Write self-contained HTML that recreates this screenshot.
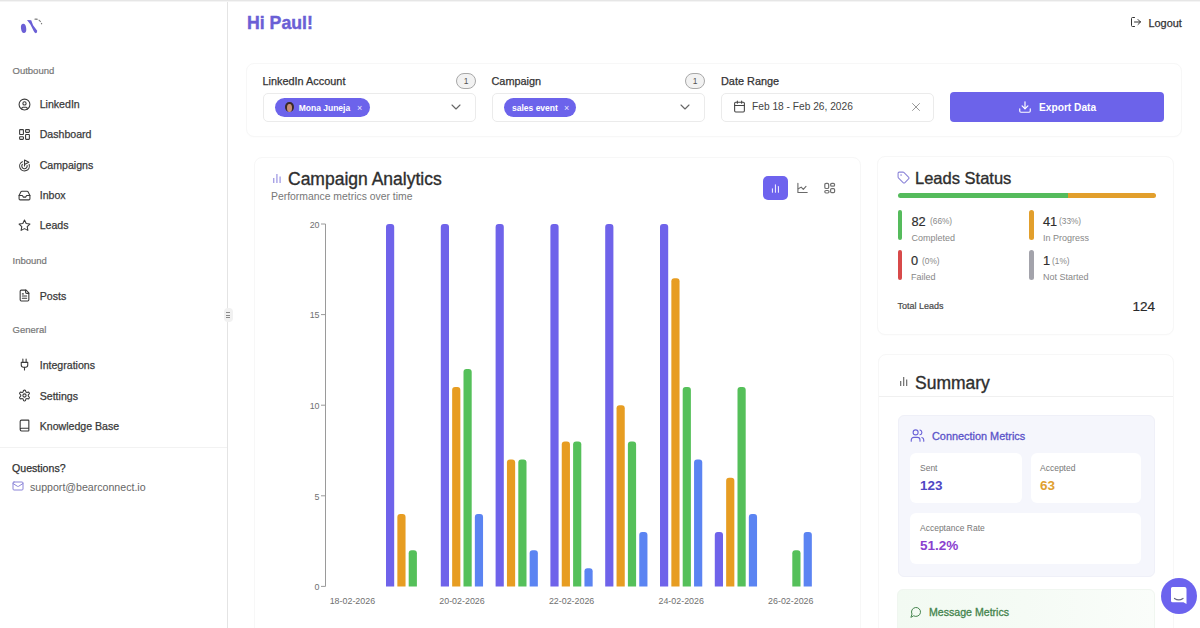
<!DOCTYPE html>
<html><head><meta charset="utf-8">
<style>
*{box-sizing:border-box;margin:0;padding:0}
html,body{width:1200px;height:628px;overflow:hidden;background:#fff;font-family:"Liberation Sans",sans-serif;color:#333}
.a{position:absolute}
.t{position:absolute;white-space:nowrap;line-height:1}
svg.i{position:absolute;fill:none;stroke-linecap:round;stroke-linejoin:round}
.sec{font-size:9.5px;color:#777;left:12.5px;-webkit-text-stroke:0.2px #777}
.nav{font-size:10.6px;color:#3a3a3a;left:39.7px;-webkit-text-stroke:0.25px #3a3a3a}
.card{position:absolute;background:#fff;border:1px solid #f7f7f7;border-radius:8px;box-shadow:0 1px 2px rgba(0,0,0,0.012)}
.lbl{font-size:10.9px;color:#333;-webkit-text-stroke:0.25px #333}
.sel{position:absolute;height:29px;border:1px solid #ebebeb;border-radius:5px;background:#fff}
.badge{position:absolute;width:20px;height:16px;border:1px solid #a8a8a8;border-radius:8px;background:#f2f2f2;font-size:8.5px;color:#555;text-align:center;line-height:14px}
.chip{position:absolute;height:19.5px;border-radius:10px;background:#6c63eb}
.chipt{font-size:8.5px;font-weight:700;color:#fff}
.bar{position:absolute;width:4.5px;height:30px;border-radius:3px}
.num{font-size:12.8px;color:#2e2e2e;-webkit-text-stroke:0.18px #2e2e2e}
.pct{font-size:8.3px;color:#888}
.sl{font-size:9px;color:#888}
.box{position:absolute;background:#fff;border-radius:6px}
.mlab{font-size:8.5px;color:#777}
.mval{font-size:13.5px;font-weight:700}
</style></head>
<body>
<div class="a" style="left:0;top:0;width:1200px;height:1px;background:#e6e6e6"></div><div class="a" style="left:0;top:1px;width:1200px;height:1px;background:#f4f4f4"></div>
<div class="a" style="left:227px;top:2px;width:1px;height:626px;background:#e4e4e4"></div>

<!-- sidebar -->
<svg class="a" style="left:16px;top:15px" width="30" height="22" viewBox="0 0 30 22">
  <ellipse cx="7.6" cy="13.4" rx="2.6" ry="4.6" fill="#6b5fd6" transform="rotate(-8 7.6 13.4)"/>
  <path d="M11 5 L15.2 5.3 L17.1 10.3 L21.2 15.8 Q21.4 18.2 19.7 18.2 Q18.2 17.6 17.4 15.6 L14.4 9.4 Z" fill="#6b5fd6"/>
  <path d="M18.5 4.3 Q23.5 3.2 25.8 9.2" stroke="#777" stroke-width="1.1" fill="none" stroke-dasharray="3 1.2"/>
</svg>
<div class="t sec" style="top:65.5px">Outbound</div>

<svg class="i" style="left:17.5px;top:98px" width="13" height="13" viewBox="0 0 24 24" stroke="#3a3a3a" stroke-width="2"><circle cx="12" cy="12" r="10"/><circle cx="12" cy="10" r="3"/><path d="M7 20.662V19a2 2 0 0 1 2-2h6a2 2 0 0 1 2 2v1.662"/></svg>
<div class="t nav" style="top:99px">LinkedIn</div>
<svg class="i" style="left:17.5px;top:128px" width="13" height="13" viewBox="0 0 24 24" stroke="#3a3a3a" stroke-width="2"><rect width="7" height="9" x="3" y="3" rx="1"/><rect width="7" height="5" x="14" y="3" rx="1"/><rect width="7" height="9" x="14" y="12" rx="1"/><rect width="7" height="5" x="3" y="16" rx="1"/></svg>
<div class="t nav" style="top:129px">Dashboard</div>
<svg class="i" style="left:17.5px;top:158.5px" width="13" height="13" viewBox="0 0 24 24" stroke="#3a3a3a" stroke-width="2"><path d="M12 13V2l8 4-8 4"/><path d="M20.561 10.222a9 9 0 1 1-12.55-5.29"/><path d="M8.002 9.997a5 5 0 1 0 8.9 2.02"/></svg>
<div class="t nav" style="top:160px">Campaigns</div>
<svg class="i" style="left:17.5px;top:189px" width="13" height="13" viewBox="0 0 24 24" stroke="#3a3a3a" stroke-width="2"><polyline points="22 12 16 12 14 15 10 15 8 12 2 12"/><path d="M5.45 5.11 2 12v6a2 2 0 0 0 2 2h16a2 2 0 0 0 2-2v-6l-3.45-6.89A2 2 0 0 0 16.76 4H7.24a2 2 0 0 0-1.79 1.11z"/></svg>
<div class="t nav" style="top:190px">Inbox</div>
<svg class="i" style="left:17.5px;top:219px" width="13" height="13" viewBox="0 0 24 24" stroke="#3a3a3a" stroke-width="2"><polygon points="12 2 15.09 8.26 22 9.27 17 14.14 18.18 21.02 12 17.77 5.82 21.02 7 14.14 2 9.27 8.91 8.26 12 2"/></svg>
<div class="t nav" style="top:220px">Leads</div>

<div class="t sec" style="top:255.5px">Inbound</div>
<svg class="i" style="left:17.5px;top:289px" width="13" height="13" viewBox="0 0 24 24" stroke="#3a3a3a" stroke-width="2"><path d="M15 2H6a2 2 0 0 0-2 2v16a2 2 0 0 0 2 2h12a2 2 0 0 0 2-2V7Z"/><path d="M14 2v4a2 2 0 0 0 2 2h4"/><path d="M10 9H8"/><path d="M16 13H8"/><path d="M16 17H8"/></svg>
<div class="t nav" style="top:290.5px">Posts</div>

<div class="t sec" style="top:324.5px">General</div>
<svg class="i" style="left:17.5px;top:358px" width="13" height="13" viewBox="0 0 24 24" stroke="#3a3a3a" stroke-width="2"><path d="M12 22v-5"/><path d="M9 8V2"/><path d="M15 8V2"/><path d="M18 8v5a4 4 0 0 1-4 4h-4a4 4 0 0 1-4-4V8Z"/></svg>
<div class="t nav" style="top:359.5px">Integrations</div>
<svg class="i" style="left:17.5px;top:389px" width="13" height="13" viewBox="0 0 24 24" stroke="#3a3a3a" stroke-width="2"><path d="M12.22 2h-.44a2 2 0 0 0-2 2v.18a2 2 0 0 1-1 1.73l-.43.25a2 2 0 0 1-2 0l-.15-.08a2 2 0 0 0-2.73.73l-.22.38a2 2 0 0 0 .73 2.73l.15.1a2 2 0 0 1 1 1.72v.51a2 2 0 0 1-1 1.74l-.15.09a2 2 0 0 0-.73 2.73l.22.38a2 2 0 0 0 2.73.73l.15-.08a2 2 0 0 1 2 0l.43.25a2 2 0 0 1 1 1.73V20a2 2 0 0 0 2 2h.44a2 2 0 0 0 2-2v-.18a2 2 0 0 1 1-1.73l.43-.25a2 2 0 0 1 2 0l.15.08a2 2 0 0 0 2.73-.73l.22-.39a2 2 0 0 0-.73-2.73l-.15-.08a2 2 0 0 1-1-1.74v-.5a2 2 0 0 1 1-1.74l.15-.09a2 2 0 0 0 .73-2.73l-.22-.38a2 2 0 0 0-2.73-.73l-.15.08a2 2 0 0 1-2 0l-.43-.25a2 2 0 0 1-1-1.73V4a2 2 0 0 0-2-2z"/><circle cx="12" cy="12" r="3"/></svg>
<div class="t nav" style="top:390.5px">Settings</div>
<svg class="i" style="left:17.5px;top:419px" width="13" height="13" viewBox="0 0 24 24" stroke="#3a3a3a" stroke-width="2"><path d="M4 19.5v-15A2.5 2.5 0 0 1 6.5 2H19a1 1 0 0 1 1 1v18a1 1 0 0 1-1 1H6.5a1 1 0 0 1 0-5H20"/></svg>
<div class="t nav" style="top:420.5px">Knowledge Base</div>

<div class="a" style="left:0;top:446.5px;width:227px;height:1.5px;background:#f2f2f2"></div>
<div class="t" style="left:12px;top:463px;font-size:10.6px;color:#333;-webkit-text-stroke:0.25px #333">Questions?</div>
<svg class="i" style="left:11.5px;top:480px" width="12" height="12" viewBox="0 0 24 24" stroke="#8b84d8" stroke-width="2"><rect width="20" height="16" x="2" y="4" rx="2"/><path d="m22 7-8.97 5.7a1.94 1.94 0 0 1-2.06 0L2 7"/></svg>
<div class="t" style="left:30px;top:481.7px;font-size:10.6px;color:#666">support@bearconnect.io</div>

<!-- collapse handle -->
<div class="a" style="left:223.5px;top:308px;width:9px;height:14px;border-radius:4px;background:#f1f1f1"></div>
<div class="a" style="left:226px;top:312.3px;width:3.6px;height:1px;background:#8a8a8a"></div>
<div class="a" style="left:226px;top:314.6px;width:3.6px;height:1px;background:#8a8a8a"></div>
<div class="a" style="left:226px;top:316.9px;width:3.6px;height:1px;background:#8a8a8a"></div>

<!-- header -->
<div class="t" style="left:247px;top:14.7px;font-size:17.7px;font-weight:700;color:#6a5fd5;-webkit-text-stroke:0.4px #6a5fd5">Hi Paul!</div>
<svg class="i" style="left:1129.5px;top:16px" width="12" height="12" viewBox="0 0 24 24" stroke="#333" stroke-width="2"><path d="M9 3H5a2 2 0 0 0-2 2v14a2 2 0 0 0 2 2h4" transform="translate(0,0)"/><polyline points="16 17 21 12 16 7"/><line x1="21" x2="9" y1="12" y2="12"/></svg>
<div class="t" style="left:1148.5px;top:17.7px;font-size:10.9px;color:#333;-webkit-text-stroke:0.25px #333">Logout</div>

<!-- filter card -->
<div class="card" style="left:246px;top:63px;width:936px;height:74px"></div>
<div class="t lbl" style="left:262.5px;top:76.2px">LinkedIn Account</div>
<div class="badge" style="left:456px;top:72.5px">1</div>
<div class="sel" style="left:262.5px;top:92.5px;width:213px"></div>
<div class="chip" style="left:275px;top:97.5px;width:94.5px"></div>
<div class="a" style="left:285px;top:102px;width:8.5px;height:10px;border-radius:50%;background:#3a2a26"></div>
<div class="a" style="left:287.3px;top:104px;width:4.4px;height:8px;border-radius:50%;background:#c89078"></div>
<div class="t chipt" style="left:298.7px;top:103.8px">Mona Juneja</div>
<div class="t" style="left:357px;top:104px;font-size:9px;color:#e8e6ff">×</div>
<svg class="i" style="left:450px;top:102px" width="12" height="10" viewBox="0 0 12 10" stroke="#666" stroke-width="1.1"><path d="M2 3 L6 7 L10 3"/></svg>

<div class="t lbl" style="left:491.5px;top:76.2px">Campaign</div>
<div class="badge" style="left:685px;top:72.5px">1</div>
<div class="sel" style="left:491.5px;top:92.5px;width:213px"></div>
<div class="chip" style="left:504px;top:97.5px;width:72px"></div>
<div class="t chipt" style="left:512px;top:103.8px">sales event</div>
<div class="t" style="left:564px;top:104px;font-size:9px;color:#e8e6ff">×</div>
<svg class="i" style="left:679px;top:102px" width="12" height="10" viewBox="0 0 12 10" stroke="#666" stroke-width="1.1"><path d="M2 3 L6 7 L10 3"/></svg>

<div class="t lbl" style="left:721px;top:76.2px">Date Range</div>
<div class="sel" style="left:721px;top:92.5px;width:213px"></div>
<svg class="i" style="left:733px;top:100px" width="13" height="13" viewBox="0 0 24 24" stroke="#444" stroke-width="2"><path d="M8 2v4"/><path d="M16 2v4"/><rect width="18" height="18" x="3" y="4" rx="2"/><path d="M3 10h18"/></svg>
<div class="t" style="left:752px;top:102px;font-size:10.2px;color:#444">Feb 18 - Feb 26, 2026</div>
<svg class="i" style="left:911px;top:102px" width="10" height="10" viewBox="0 0 10 10" stroke="#999" stroke-width="1"><path d="M1.5 1.5 L8.5 8.5 M8.5 1.5 L1.5 8.5"/></svg>

<div class="a" style="left:950px;top:92.3px;width:214px;height:29.5px;background:#6c63ea;border-radius:4px"></div>
<svg class="i" style="left:1018px;top:100px" width="14" height="14" viewBox="0 0 24 24" stroke="#fff" stroke-width="2"><path d="M21 15v4a2 2 0 0 1-2 2H5a2 2 0 0 1-2-2v-4"/><polyline points="7 10 12 15 17 10"/><line x1="12" x2="12" y1="15" y2="3"/></svg>
<div class="t" style="left:1039px;top:103.3px;font-size:10.2px;font-weight:700;color:#fff">Export Data</div>

<!-- chart card -->
<div class="card" style="left:254px;top:157px;width:607px;height:490px"></div>
<svg class="a" style="left:272px;top:173px" width="10" height="10" viewBox="0 0 10 10"><rect x="1" y="5" width="1.4" height="5" fill="#a9a3e6"/><rect x="4.2" y="1" width="1.4" height="9" fill="#a9a3e6"/><rect x="7.4" y="3.5" width="1.4" height="6.5" fill="#a9a3e6"/></svg>
<div class="t" style="left:288px;top:171px;font-size:17.5px;color:#2e2e2e;-webkit-text-stroke:0.35px #2e2e2e">Campaign Analytics</div>
<div class="t" style="left:271px;top:191.5px;font-size:10.4px;color:#777">Performance metrics over time</div>
<div class="a" style="left:763px;top:176px;width:24.5px;height:23.5px;background:#6e63ee;border-radius:5px"></div>
<svg class="a" style="left:770px;top:182px" width="11" height="12" viewBox="0 0 11 12"><rect x="1.9" y="6.2" width="1.1" height="4.6" rx="0.5" fill="rgba(255,255,255,0.85)"/><rect x="4.9" y="2.2" width="1.1" height="8.6" rx="0.5" fill="rgba(255,255,255,0.85)"/><rect x="7.9" y="4" width="1.1" height="6.8" rx="0.5" fill="rgba(255,255,255,0.85)"/></svg>
<svg class="i" style="left:796px;top:182px" width="12" height="12" viewBox="0 0 24 24" stroke="#6a6a6a" stroke-width="2.2"><path d="M3.8 2.4V21h18.6"/><path d="M4.6 13.6 L10.4 10.2 L14.6 14.6 L20 8.8"/></svg>
<svg class="i" style="left:823px;top:182px" width="13" height="12" viewBox="0 0 13 12" stroke="#707070" stroke-width="1.2"><rect x="1.8" y="1.4" width="3.9" height="5.1" rx="1.3"/><rect x="1.8" y="8.5" width="4.2" height="2.5" rx="1.2"/><rect x="7.6" y="1.4" width="4" height="2.8" rx="1.3"/><rect x="7.6" y="6.6" width="4" height="4.1" rx="1.1"/></svg>
<svg class="a" style="left:0;top:0" width="1200" height="628" viewBox="0 0 1200 628" font-family="Liberation Sans, sans-serif">
<path d="M386.00 586.4 V227.00 Q386.00 224.00 389.00 224.00 H391.20 Q394.20 224.00 394.20 227.00 V586.4 Z" fill="#6f63ea"/>
<path d="M397.35 586.4 V516.92 Q397.35 513.92 400.35 513.92 H402.55 Q405.55 513.92 405.55 516.92 V586.4 Z" fill="#e79d22"/>
<path d="M408.70 586.4 V553.16 Q408.70 550.16 411.70 550.16 H413.90 Q416.90 550.16 416.90 553.16 V586.4 Z" fill="#55c05a"/>
<path d="M440.80 586.4 V227.00 Q440.80 224.00 443.80 224.00 H446.00 Q449.00 224.00 449.00 227.00 V586.4 Z" fill="#6f63ea"/>
<path d="M452.15 586.4 V390.08 Q452.15 387.08 455.15 387.08 H457.35 Q460.35 387.08 460.35 390.08 V586.4 Z" fill="#e79d22"/>
<path d="M463.50 586.4 V371.96 Q463.50 368.96 466.50 368.96 H468.70 Q471.70 368.96 471.70 371.96 V586.4 Z" fill="#55c05a"/>
<path d="M474.85 586.4 V516.92 Q474.85 513.92 477.85 513.92 H480.05 Q483.05 513.92 483.05 516.92 V586.4 Z" fill="#5b84f2"/>
<path d="M495.60 586.4 V227.00 Q495.60 224.00 498.60 224.00 H500.80 Q503.80 224.00 503.80 227.00 V586.4 Z" fill="#6f63ea"/>
<path d="M506.95 586.4 V462.56 Q506.95 459.56 509.95 459.56 H512.15 Q515.15 459.56 515.15 462.56 V586.4 Z" fill="#e79d22"/>
<path d="M518.30 586.4 V462.56 Q518.30 459.56 521.30 459.56 H523.50 Q526.50 459.56 526.50 462.56 V586.4 Z" fill="#55c05a"/>
<path d="M529.65 586.4 V553.16 Q529.65 550.16 532.65 550.16 H534.85 Q537.85 550.16 537.85 553.16 V586.4 Z" fill="#5b84f2"/>
<path d="M550.40 586.4 V227.00 Q550.40 224.00 553.40 224.00 H555.60 Q558.60 224.00 558.60 227.00 V586.4 Z" fill="#6f63ea"/>
<path d="M561.75 586.4 V444.44 Q561.75 441.44 564.75 441.44 H566.95 Q569.95 441.44 569.95 444.44 V586.4 Z" fill="#e79d22"/>
<path d="M573.10 586.4 V444.44 Q573.10 441.44 576.10 441.44 H578.30 Q581.30 441.44 581.30 444.44 V586.4 Z" fill="#55c05a"/>
<path d="M584.45 586.4 V571.28 Q584.45 568.28 587.45 568.28 H589.65 Q592.65 568.28 592.65 571.28 V586.4 Z" fill="#5b84f2"/>
<path d="M605.20 586.4 V227.00 Q605.20 224.00 608.20 224.00 H610.40 Q613.40 224.00 613.40 227.00 V586.4 Z" fill="#6f63ea"/>
<path d="M616.55 586.4 V408.20 Q616.55 405.20 619.55 405.20 H621.75 Q624.75 405.20 624.75 408.20 V586.4 Z" fill="#e79d22"/>
<path d="M627.90 586.4 V444.44 Q627.90 441.44 630.90 441.44 H633.10 Q636.10 441.44 636.10 444.44 V586.4 Z" fill="#55c05a"/>
<path d="M639.25 586.4 V535.04 Q639.25 532.04 642.25 532.04 H644.45 Q647.45 532.04 647.45 535.04 V586.4 Z" fill="#5b84f2"/>
<path d="M660.00 586.4 V227.00 Q660.00 224.00 663.00 224.00 H665.20 Q668.20 224.00 668.20 227.00 V586.4 Z" fill="#6f63ea"/>
<path d="M671.35 586.4 V281.36 Q671.35 278.36 674.35 278.36 H676.55 Q679.55 278.36 679.55 281.36 V586.4 Z" fill="#e79d22"/>
<path d="M682.70 586.4 V390.08 Q682.70 387.08 685.70 387.08 H687.90 Q690.90 387.08 690.90 390.08 V586.4 Z" fill="#55c05a"/>
<path d="M694.05 586.4 V462.56 Q694.05 459.56 697.05 459.56 H699.25 Q702.25 459.56 702.25 462.56 V586.4 Z" fill="#5b84f2"/>
<path d="M714.80 586.4 V535.04 Q714.80 532.04 717.80 532.04 H720.00 Q723.00 532.04 723.00 535.04 V586.4 Z" fill="#6f63ea"/>
<path d="M726.15 586.4 V480.68 Q726.15 477.68 729.15 477.68 H731.35 Q734.35 477.68 734.35 480.68 V586.4 Z" fill="#e79d22"/>
<path d="M737.50 586.4 V390.08 Q737.50 387.08 740.50 387.08 H742.70 Q745.70 387.08 745.70 390.08 V586.4 Z" fill="#55c05a"/>
<path d="M748.85 586.4 V516.92 Q748.85 513.92 751.85 513.92 H754.05 Q757.05 513.92 757.05 516.92 V586.4 Z" fill="#5b84f2"/>
<path d="M792.30 586.4 V553.16 Q792.30 550.16 795.30 550.16 H797.50 Q800.50 550.16 800.50 553.16 V586.4 Z" fill="#55c05a"/>
<path d="M803.65 586.4 V535.04 Q803.65 532.04 806.65 532.04 H808.85 Q811.85 532.04 811.85 535.04 V586.4 Z" fill="#5b84f2"/>
<path d="M325.5 224 V586.4" stroke="#9a9a9a" stroke-width="1" fill="none"/>
<path d="M321 586.40 H325.5" stroke="#9a9a9a" stroke-width="1"/>
<text x="319.5" y="590.10" text-anchor="end" font-size="8.9" fill="#707070">0</text>
<path d="M321 495.80 H325.5" stroke="#9a9a9a" stroke-width="1"/>
<text x="319.5" y="499.50" text-anchor="end" font-size="8.9" fill="#707070">5</text>
<path d="M321 405.20 H325.5" stroke="#9a9a9a" stroke-width="1"/>
<text x="319.5" y="408.90" text-anchor="end" font-size="8.9" fill="#707070">10</text>
<path d="M321 314.60 H325.5" stroke="#9a9a9a" stroke-width="1"/>
<text x="319.5" y="318.30" text-anchor="end" font-size="8.9" fill="#707070">15</text>
<path d="M321 224.00 H325.5" stroke="#9a9a9a" stroke-width="1"/>
<text x="319.5" y="227.70" text-anchor="end" font-size="8.9" fill="#707070">20</text>
<text x="352.40" y="604" text-anchor="middle" font-size="8.9" fill="#707070">18-02-2026</text>
<text x="462.00" y="604" text-anchor="middle" font-size="8.9" fill="#707070">20-02-2026</text>
<text x="571.60" y="604" text-anchor="middle" font-size="8.9" fill="#707070">22-02-2026</text>
<text x="681.20" y="604" text-anchor="middle" font-size="8.9" fill="#707070">24-02-2026</text>
<text x="790.80" y="604" text-anchor="middle" font-size="8.9" fill="#707070">26-02-2026</text>
</svg>

<!-- leads card -->
<div class="card" style="left:877px;top:156px;width:297px;height:179px"></div>
<svg class="i" style="left:897px;top:171px" width="13" height="13" viewBox="0 0 24 24" stroke="#8b84d8" stroke-width="2"><path d="M12.586 2.586A2 2 0 0 0 11.172 2H4a2 2 0 0 0-2 2v7.172a2 2 0 0 0 .586 1.414l8.704 8.704a2.426 2.426 0 0 0 3.42 0l6.58-6.58a2.426 2.426 0 0 0 0-3.42z"/><circle cx="7.5" cy="7.5" r=".5" fill="#8b84d8"/></svg>
<div class="t" style="left:915px;top:170px;font-size:16.5px;color:#2e2e2e;-webkit-text-stroke:0.35px #2e2e2e">Leads Status</div>
<div class="a" style="left:897.5px;top:193px;width:258px;height:5px;border-radius:3px;background:linear-gradient(90deg,#55bb5c 0,#55bb5c 66%,#e29f2c 66%,#e29f2c 100%)"></div>

<div class="bar" style="left:897.5px;top:210px;background:#55bb5c"></div>
<div class="t num" style="left:911.5px;top:215.5px">82</div>
<div class="t pct" style="left:930px;top:217px">(66%)</div>
<div class="t sl" style="left:911.5px;top:233.6px">Completed</div>

<div class="bar" style="left:1029px;top:210px;background:#e29f2c"></div>
<div class="t num" style="left:1043px;top:215.5px">41</div>
<div class="t pct" style="left:1059px;top:217px">(33%)</div>
<div class="t sl" style="left:1043px;top:233.6px">In Progress</div>

<div class="bar" style="left:897.5px;top:249.5px;background:#d84a4a"></div>
<div class="t num" style="left:911px;top:255px">0</div>
<div class="t pct" style="left:922px;top:256.5px">(0%)</div>
<div class="t sl" style="left:911px;top:272.6px">Failed</div>

<div class="bar" style="left:1029px;top:249.5px;background:#a3a3ab"></div>
<div class="t num" style="left:1043px;top:255px">1</div>
<div class="t pct" style="left:1052px;top:256.5px">(1%)</div>
<div class="t sl" style="left:1043px;top:272.6px">Not Started</div>

<div class="t" style="left:897.5px;top:302px;font-size:9px;color:#4a4a4a;-webkit-text-stroke:0.2px #4a4a4a">Total Leads</div>
<div class="t" style="left:1132.5px;top:299.5px;font-size:13.5px;color:#2a2a2a;-webkit-text-stroke:0.2px #2a2a2a">124</div>

<!-- summary card -->
<div class="card" style="left:878px;top:354px;width:296px;height:290px"></div>
<div class="a" style="left:879px;top:396px;width:294px;height:1px;background:#f0f0f0"></div>
<svg class="a" style="left:899px;top:376px" width="10" height="10" viewBox="0 0 10 10"><rect x="1" y="5" width="1.3" height="5" fill="#777"/><rect x="4" y="1" width="1.3" height="9" fill="#777"/><rect x="7" y="3.5" width="1.3" height="6.5" fill="#777"/></svg>
<div class="t" style="left:915px;top:374.5px;font-size:17.5px;color:#2e2e2e;-webkit-text-stroke:0.35px #2e2e2e">Summary</div>

<div class="a" style="left:898px;top:415px;width:257px;height:162px;background:#f5f6fc;border:1px solid #eff0f8;border-radius:6px"></div>
<svg class="i" style="left:910px;top:428px" width="15" height="15" viewBox="0 0 24 24" stroke="#6b63d8" stroke-width="1.8"><path d="M16 21v-2a4 4 0 0 0-4-4H6a4 4 0 0 0-4 4v2"/><circle cx="9" cy="7" r="4"/><path d="M22 21v-2a4 4 0 0 0-3-3.87"/><path d="M16 3.13a4 4 0 0 1 0 7.75"/></svg>
<div class="t" style="left:932px;top:431px;font-size:10.9px;color:#5a53c9;-webkit-text-stroke:0.3px #5a53c9">Connection Metrics</div>
<div class="box" style="left:910px;top:453px;width:112px;height:50px"></div>
<div class="box" style="left:1031px;top:453px;width:110px;height:50px"></div>
<div class="box" style="left:910px;top:513px;width:231px;height:51px"></div>
<div class="t mlab" style="left:920px;top:464px">Sent</div>
<div class="t mval" style="left:920px;top:479px;color:#5047c4">123</div>
<div class="t mlab" style="left:1040px;top:464px">Accepted</div>
<div class="t mval" style="left:1040px;top:479px;color:#e0a030">63</div>
<div class="t mlab" style="left:920px;top:524px">Acceptance Rate</div>
<div class="t mval" style="left:920px;top:538.5px;color:#8a3fcf">51.2%</div>

<div class="a" style="left:897px;top:589px;width:258px;height:60px;background:linear-gradient(90deg,#f2faf2 0%,#f5fbf5 50%,#fafdfa 100%);border:1px solid #f0f6f0;border-radius:6px"></div>
<svg class="i" style="left:910px;top:606px" width="12" height="12" viewBox="0 0 24 24" stroke="#44844d" stroke-width="2"><path d="M7.9 20A9 9 0 1 0 4 16.1L2 22Z"/></svg>
<div class="t" style="left:929px;top:607px;font-size:10.6px;color:#44844d;-webkit-text-stroke:0.3px #44844d">Message Metrics</div>

<!-- chat bubble -->
<div class="a" style="left:1161px;top:578.3px;width:36px;height:36px;border-radius:50%;background:#6c63ee"></div>
<svg class="a" style="left:1170px;top:586px" width="18" height="19" viewBox="0 0 18 19"><path d="M2.5 1 H14.5 Q16.5 1 16.5 3 V18 L13.5 16.2 H2.5 Q1 16.2 1 14.7 V2.5 Q1 1 2.5 1 Z" fill="#fff"/><path d="M4.5 12.4 Q8.8 15.2 13 12.4" stroke="#666680" stroke-width="1.2" fill="none" stroke-linecap="round"/></svg>
</body></html>
